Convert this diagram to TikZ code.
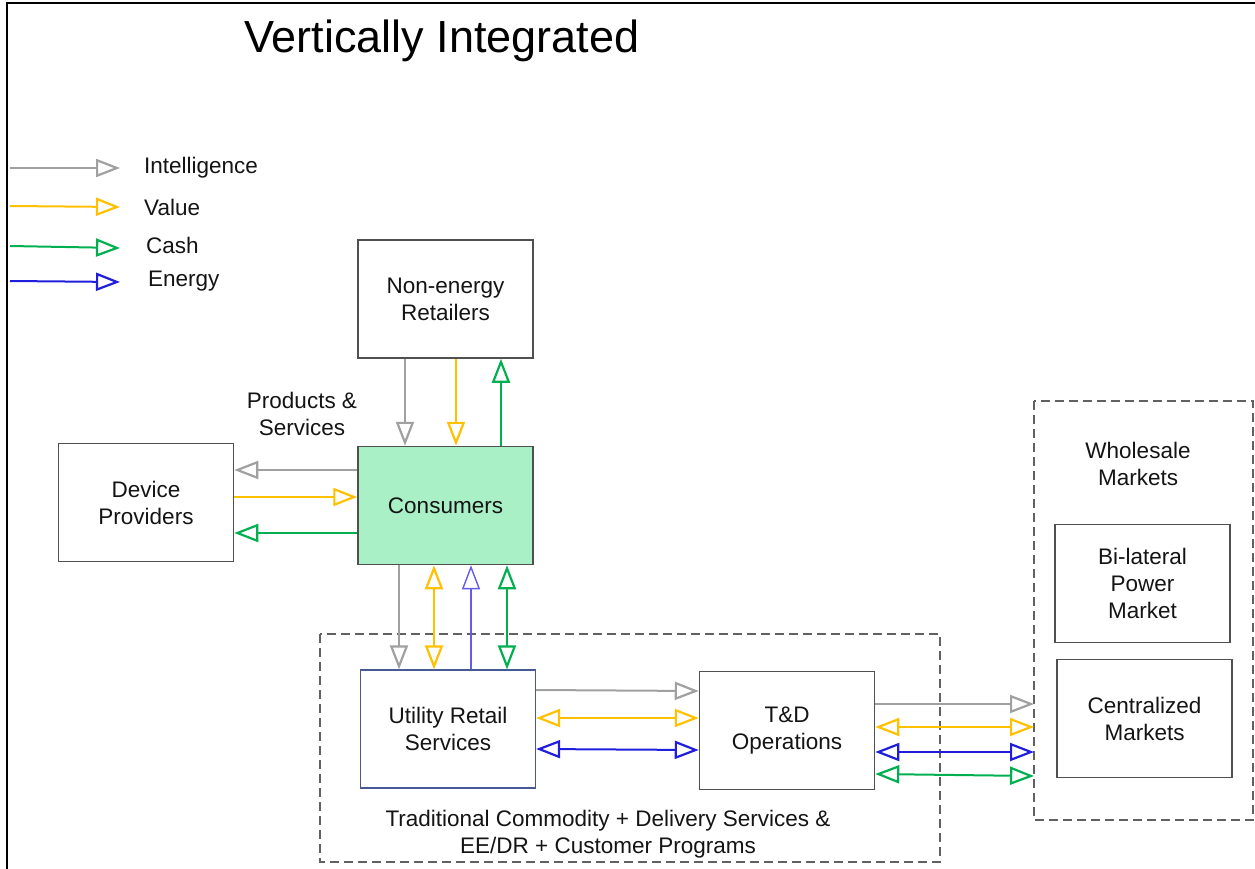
\documentclass[tikz,border=0pt]{standalone}
\usepackage{fontspec}
\setmainfont{Liberation Sans}
\usetikzlibrary{arrows.meta}
\definecolor{cgray}{RGB}{160,160,160}
\definecolor{cyel}{RGB}{255,192,0}
\definecolor{cgreen}{RGB}{0,176,80}
\definecolor{cblue}{RGB}{30,30,220}
\definecolor{clblue}{RGB}{100,90,235}
\definecolor{cfill}{RGB}{170,240,198}
\definecolor{cbox}{RGB}{80,80,80}
\definecolor{ctext}{RGB}{20,20,20}
\definecolor{cubox}{RGB}{70,90,150}
\tikzset{
  tip/.tip={Triangle[open,length=24pt,width=18pt,line width=2.2pt]},
  flow/.style={line width=2pt},
  fgray/.style={flow,draw=cgray,-tip},
  fyel/.style={flow,draw=cyel,-tip},
  fgreen/.style={flow,draw=cgreen,-tip},
  fblue/.style={flow,draw=cblue,-tip},
  box/.style={draw=cbox,line width=1.5pt,minimum width=175pt,minimum height=118pt,align=center,text=ctext,font=\fontsize{22.5}{27}\selectfont,inner sep=0pt},
  dbox/.style={draw=cbox!90,line width=1.8pt,dash pattern=on 9pt off 5pt},
  lbl/.style={align=center,text=ctext,font=\fontsize{22.5}{27}\selectfont,inner sep=0pt},
}
\begin{document}
\begin{tikzpicture}[x=1pt,y=-1pt]
\useasboundingbox (0,0) rectangle (1255,869);
\draw[line width=2pt,black] (1255,3) -- (7,3) -- (7,869);
\node[text=black,font=\fontsize{45}{50}\selectfont,inner sep=0pt] (title) at (442,41) {Vertically Integrated};
% legend
\coordinate (l1) at (10,168); \coordinate (l1e) at (120,168);
\coordinate (l2) at (10,206); \coordinate (l2e) at (120,207);
\coordinate (l3) at (10,246); \coordinate (l3e) at (120,248);
\coordinate (l4) at (10,281); \coordinate (l4e) at (120,282);
\draw[fgray] (l1) -- (l1e);
\draw[fyel] (l2) -- (l2e);
\draw[fgreen] (l3) -- (l3e);
\draw[fblue] (l4) -- (l4e);
\node[lbl,anchor=west] (t1) at (144,168) {Intelligence};
\node[lbl,anchor=west] (t2) at (144,207) {Value};
\node[lbl,anchor=west] (t3) at (146,245) {Cash};
\node[lbl,anchor=west] (t4) at (148,281) {Energy};
% dashed containers
\draw[dbox] (320,634) rectangle (940,862);
\draw[dbox] (1034,401) rectangle (1253,820);
\node[lbl] (trad) at (608,834) {Traditional Commodity + Delivery Services \&\\EE/DR + Customer Programs};
\node[lbl] (whole) at (1138,464) {Wholesale\\Markets};
% boxes
\node[box] (ner) at (445.5,299) {Non-energy\\Retailers};
\node[box,fill=cfill] (cons) at (445.5,505.5) {Consumers};
\node[box] (dev) at (146,502.5) {Device\\Providers};
\node[box,draw=cubox,line width=1.2pt] (urs) at (448,729) {Utility Retail\\Services};
\node[box] (td) at (787,730.5) {T\&D\\Operations};
\node[box] (bil) at (1142.5,583.5) {Bi-lateral\\Power\\Market};
\node[box] (cen) at (1144.5,718.5) {Centralized\\Markets};
\node[lbl] (ps) at (302,414) {Products \&\\Services};
% non-energy <-> consumers
\draw[fgray] (ner.south -| 405,0) -- (cons.north -| 405,0);
\draw[fyel] (ner.south -| 456,0) -- (cons.north -| 456,0);
\draw[fgreen] (cons.north -| 501,0) -- (ner.south -| 501,0);
% consumers <-> device
\draw[fgray] (cons.west |- 0,470) -- (dev.east |- 0,470);
\draw[fyel] (dev.east |- 0,497) -- (cons.west |- 0,497);
\draw[fgreen] (cons.west |- 0,533) -- (dev.east |- 0,533);
% consumers <-> utility
\draw[fgray] (cons.south -| 399,0) -- (urs.north -| 399,0);
\draw[fyel,tip-tip] (cons.south -| 434,0) -- (urs.north -| 434,0);
\draw[flow,line width=1.3pt,draw=clblue,-{Triangle[open,length=24pt,width=18pt,line width=1.4pt]}] (urs.north -| 471,0) -- (cons.south -| 471,0);
\draw[fgreen,tip-tip] (cons.south -| 507,0) -- (urs.north -| 507,0);
% utility <-> T&D
\draw[fgray] (urs.east |- 0,690) -- (td.west |- 0,691);
\draw[fyel,tip-tip] (urs.east |- 0,718) -- (td.west |- 0,718);
\draw[fblue,tip-tip] (urs.east |- 0,749) -- (td.west |- 0,750);
% T&D <-> wholesale
\coordinate (wl) at (1034,0);
\draw[fgray] (td.east |- 0,704) -- (wl |- 0,704);
\draw[fyel,tip-tip] (td.east |- 0,727) -- (wl |- 0,727);
\draw[fblue,tip-tip] (td.east |- 0,752) -- (wl |- 0,752);
\draw[fgreen,tip-tip] (td.east |- 0,774) -- (wl |- 0,776);
\end{tikzpicture}
\end{document}
